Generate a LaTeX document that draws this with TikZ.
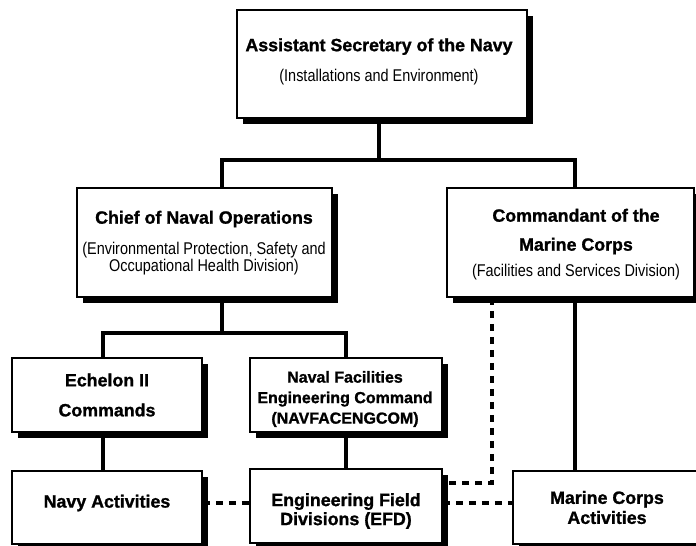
\documentclass[tikz,border=0pt]{standalone}
\usepackage{fontspec}
\setmainfont[BoldFeatures={FakeBold=1.2}]{Liberation Sans}
\newfontfamily\orgSubFam[FakeStretch=0.85]{Liberation Sans}
\usetikzlibrary{shadows,backgrounds}
\newcommand{\orgTitle}{\bfseries\fontsize{17.8}{21}\selectfont}
\newcommand{\orgSub}{\orgSubFam\mdseries\fontsize{17}{17}\selectfont}
\newcommand{\orgSmall}{\bfseries\fontsize{16}{20.5}\selectfont}
\begin{document}
\begin{tikzpicture}[x=1pt,y=-1pt,
  box/.style={draw=black, line width=1.6pt, fill=white, inner sep=0pt,
    drop shadow={shadow xshift=5.5pt, shadow yshift=-5.5pt, fill=black, opacity=1}},
  txt/.style={align=center, inner sep=0pt, font=\orgTitle},
  conn/.style={line width=3.4pt, line join=miter},
  dashconn/.style={line width=3.4pt, dash pattern=on 7pt off 6pt}]
\useasboundingbox (0,0) rectangle (696,546);

% boxes
\node[box, minimum width=290pt, minimum height=108pt] (asn) at (382,64) {};
\node[box, minimum width=255pt, minimum height=109pt] (cno) at (204.5,242.5) {};
\node[box, minimum width=247pt, minimum height=109pt] (cmc) at (570.5,242.5) {};
\node[box, minimum width=190pt, minimum height=74pt] (ech) at (107,395) {};
\node[box, minimum width=192pt, minimum height=74pt] (navfac) at (346,395) {};
\node[box, minimum width=190pt, minimum height=73pt] (navy) at (107,507.5) {};
\node[box, minimum width=192pt, minimum height=74pt] (efd) at (346,506) {};
\node[box, minimum width=187pt, minimum height=73pt] (mca) at (606.5,507.5) {};

% texts
\node[txt] (asnT) at (379,61.5) {Assistant Secretary of the Navy\\[9pt]{\orgSub (Installations and Environment)}};
\node[txt] (cnoT) at (204,243) {Chief of Naval Operations\\[10pt]{\orgSub (Environmental Protection, Safety and}\\[-4pt]{\orgSub Occupational Health Division)}};
\node[txt] (cmcT) at (576,244.5) {Commandant of the\\[8pt]Marine Corps\\[5pt]{\orgSub (Facilities and Services Division)}};
\node[txt] (echT) at (107,395) {Echelon II\\[9pt]Commands};
\node[txt, font=\orgSmall] (navfacT) at (345,399) {Naval Facilities\\Engineering Command\\(NAVFACENGCOM)};
\node[txt] (navyT) at (107,503) {Navy Activities};
\node[txt] (efdT) at (346,511) {Engineering Field\\[-2pt]Divisions (EFD)};
\node[txt] (mcaT) at (607,507.5) {Marine Corps\\[-1pt]Activities};

% connectors
\coordinate (busTop) at (379,160);
\coordinate (cnoX) at (222,0);
\coordinate (cmcX) at (575,0);
\coordinate (bus2) at (222,333);
\coordinate (echX) at (103,0);
\coordinate (dy) at (0,503);
\coordinate (dcorner) at (492,483);
\begin{pgfonlayer}{background}
\fill[white] (0,0) rectangle (696,546);
\draw[conn] (asn.south -| busTop) -- (busTop);
\draw[conn] (cno.north -| cnoX) |- (busTop) -| (cmc.north -| cmcX);
\draw[conn] (cno.south -| bus2) -- (bus2);
\draw[conn] (ech.north -| echX) |- (bus2) -| (navfac.north);
\draw[conn] (ech.south -| echX) -- (navy.north -| echX);
\draw[conn] (navfac.south) -- (efd.north);
\draw[conn] (cmc.south -| cmcX) -- (mca.north -| cmcX);
\draw[dashconn] (navy.east |- dy) -- (efd.west |- dy);
\draw[dashconn] (efd.east |- dy) -- (mca.west |- dy);
\draw[dashconn] (cmc.south -| dcorner) -- (dcorner) -- (efd.east |- dcorner);
\end{pgfonlayer}
\end{tikzpicture}
\end{document}
